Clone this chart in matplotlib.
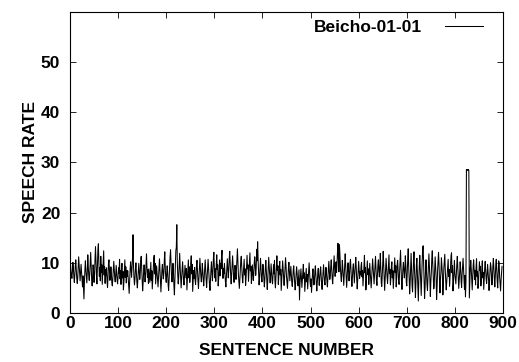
import numpy as np
import matplotlib
matplotlib.use("Agg")
import matplotlib.pyplot as plt

# speech rate per sentence (sentence 1..898)
rate = [
    9.8, 8.6, 7.4, 6.9, 8.2, 10.1, 9.0, 7.3, 6.1, 7.5, 9.4, 10.6, 8.8, 7.0, 5.9, 6.8, 8.9, 11.2, 9.5, 7.6,
    6.4, 7.9, 9.7, 8.1, 6.3, 5.2, 7.4, 5.0, 2.8, 6.2, 8.7, 10.4, 8.5, 7.1, 6.0, 8.3, 11.6, 9.2, 7.4, 6.5,
    7.8, 10.2, 12.1, 9.3, 6.8, 5.4, 7.0, 9.6, 8.2, 6.1, 7.5, 10.8, 13.2, 10.4, 7.6, 5.8, 8.9, 12.6, 13.8, 10.1,
    7.3, 9.0, 6.4, 11.3, 8.1, 9.6, 5.7, 7.9, 10.5, 12.4, 7.6, 9.2, 5.9, 8.7, 7.4, 9.0, 6.3, 5.1, 7.2, 9.8,
    10.6, 8.3, 6.5, 7.4, 9.2, 7.8, 6.0, 5.4, 6.9, 8.8, 10.3, 8.6, 7.0, 6.2, 7.6, 9.5, 8.1, 6.4, 5.8, 7.3,
    9.0, 7.9, 10.7, 6.8, 8.5, 5.7, 8.5, 9.9, 7.0, 8.3, 4.6, 6.1, 8.2, 10.6, 7.1, 9.2, 6.0, 8.5, 7.3, 8.4,
    6.9, 5.3, 3.9, 6.4, 8.8, 10.2, 8.6, 7.1, 8.9, 11.1, 15.6, 9.4, 7.0, 5.6, 6.8, 8.7, 10.0, 8.1, 6.2, 5.0,
    6.6, 8.4, 9.9, 8.2, 6.7, 7.8, 10.4, 11.3, 8.9, 6.5, 4.4, 6.0, 8.1, 9.6, 7.7, 6.2, 7.4, 9.5, 11.8, 9.0,
    7.1, 8.6, 5.9, 8.8, 7.3, 6.1, 7.9, 10.1, 6.5, 8.4, 4.8, 6.6, 8.6, 10.7, 11.5, 7.8, 9.9, 5.8, 7.6, 9.4,
    8.0, 6.3, 5.2, 7.1, 9.3, 10.8, 8.7, 6.6, 4.2, 6.3, 8.4, 9.7, 8.2, 6.8, 7.9, 10.5, 12.2, 9.1, 7.0, 6.1,
    7.7, 9.4, 8.0, 5.6, 4.5, 6.9, 9.0, 11.2, 12.6, 9.8, 7.4, 6.2, 7.8, 9.9, 8.1, 5.5, 3.6, 6.7, 9.6, 12.4,
    13.1, 17.6, 10.3, 7.5, 5.8, 7.2, 9.8, 11.9, 9.0, 6.8, 5.0, 6.9, 8.6, 10.2, 8.4, 6.5, 5.6, 7.3, 9.5, 8.3,
    7.0, 8.9, 4.6, 6.5, 8.4, 10.6, 7.0, 9.2, 6.1, 7.6, 9.8, 11.4, 7.8, 9.7, 4.3, 6.2, 8.5, 6.9, 9.1, 6.6,
    5.7, 7.4, 9.6, 10.5, 8.2, 6.4, 4.9, 6.8, 8.9, 10.9, 9.1, 7.3, 6.2, 7.7, 9.9, 8.4, 6.5, 5.4, 7.2, 9.4,
    10.6, 8.5, 6.6, 5.1, 6.9, 8.8, 10.7, 9.0, 7.1, 5.6, 4.5, 6.7, 8.6, 10.2, 8.3, 6.4, 8.1, 10.8, 12.1, 9.2,
    7.0, 8.8, 6.3, 9.5, 11.6, 8.7, 9.6, 5.4, 6.8, 8.9, 10.6, 7.4, 9.9, 8.8, 11.4, 12.5, 9.3, 6.9, 8.9, 7.8,
    9.9, 8.2, 6.3, 5.2, 7.1, 9.0, 10.8, 8.7, 7.0, 8.5, 10.9, 12.3, 9.6, 7.4, 5.8, 7.6, 9.8, 11.4, 9.2, 7.3,
    6.1, 7.9, 9.5, 8.3, 6.7, 8.6, 10.9, 12.8, 10.2, 7.7, 6.2, 4.9, 6.6, 8.8, 10.5, 11.3, 9.0, 7.2, 6.0, 7.5,
    9.3, 10.7, 7.6, 8.8, 5.5, 7.1, 9.2, 11.5, 8.8, 9.6, 6.3, 8.2, 10.4, 12.0, 8.4, 9.3, 5.9, 7.4, 9.6, 8.1,
    6.5, 7.8, 10.1, 11.2, 9.3, 7.5, 8.9, 12.7, 10.4, 14.2, 10.6, 7.9, 5.6, 6.9, 8.7, 10.9, 9.1, 7.0, 6.2, 7.8,
    9.7, 8.4, 6.6, 5.2, 6.8, 8.9, 10.5, 8.7, 6.9, 4.7, 6.4, 8.6, 11.1, 9.3, 7.2, 6.0, 7.6, 9.8, 8.2, 6.4,
    5.8, 7.5, 9.6, 7.8, 10.5, 6.3, 5.0, 6.9, 9.1, 11.4, 8.5, 9.4, 5.7, 7.2, 9.3, 10.3, 7.6, 8.7, 4.5, 6.6,
    8.8, 10.4, 8.9, 7.1, 5.5, 7.0, 9.2, 11.0, 9.4, 7.3, 6.2, 4.9, 6.8, 9.0, 10.1, 8.3, 6.4, 7.7, 9.3, 7.8,
    6.1, 5.3, 6.7, 8.5, 9.4, 7.6, 6.0, 4.6, 5.9, 7.8, 9.2, 8.0, 6.3, 5.4, 6.9, 8.6, 2.6, 5.8, 7.4, 8.8,
    7.1, 5.1, 6.5, 8.2, 9.7, 6.9, 8.0, 4.3, 5.8, 7.6, 8.9, 6.2, 7.7, 4.8, 6.6, 8.7, 10.0, 7.9, 6.2, 5.3,
    6.8, 4.1, 5.9, 7.7, 8.8, 7.0, 5.6, 6.4, 8.3, 9.4, 7.5, 5.9, 4.4, 6.1, 7.9, 8.9, 7.2, 5.5, 6.6, 8.5,
    9.2, 7.4, 5.8, 4.7, 6.5, 8.1, 9.6, 7.8, 6.2, 5.6, 7.3, 9.1, 8.0, 6.4, 5.2, 7.0, 8.8, 10.3, 8.4, 6.7,
    7.5, 9.3, 10.6, 8.6, 6.9, 5.8, 7.6, 9.7, 11.4, 9.0, 7.3, 8.5, 10.2, 8.1, 9.8, 12.3, 13.9, 10.4, 8.2, 13.6,
    11.8, 9.2, 7.4, 6.3, 8.0, 10.5, 9.1, 7.2, 5.5, 7.4, 9.6, 11.8, 9.5, 7.6, 5.1, 6.9, 8.9, 10.0, 8.2, 6.4,
    7.8, 9.9, 10.7, 8.5, 6.6, 5.3, 7.1, 9.0, 9.8, 7.7, 6.0, 7.9, 9.6, 11.1, 8.8, 6.7, 4.8, 6.6, 8.7, 10.3,
    8.5, 6.9, 8.2, 7.6, 9.4, 10.1, 7.2, 8.5, 5.4, 7.2, 9.2, 11.5, 8.0, 9.1, 4.6, 6.3, 8.4, 10.4, 7.7, 8.8,
    5.7, 7.5, 9.9, 8.3, 6.6, 5.0, 7.0, 8.9, 10.8, 9.1, 7.4, 5.8, 7.6, 9.5, 11.3, 8.8, 6.4, 5.5, 7.7, 9.6,
    10.6, 8.4, 7.2, 9.3, 11.9, 9.0, 6.0, 5.3, 7.4, 9.8, 12.3, 9.7, 7.5, 4.5, 6.6, 8.7, 10.9, 8.9, 7.3, 5.9,
    7.6, 9.7, 11.6, 7.9, 8.7, 5.6, 7.1, 9.2, 10.2, 7.0, 8.4, 4.9, 6.8, 8.8, 11.0, 8.1, 9.4, 5.2, 7.0, 9.7,
    10.5, 8.6, 6.2, 5.7, 7.9, 10.4, 12.5, 9.3, 6.5, 4.7, 6.9, 8.9, 10.1, 8.4, 7.0, 8.6, 11.4, 9.5, 6.1, 5.4,
    8.2, 10.8, 12.8, 9.2, 6.8, 3.8, 6.0, 9.0, 11.9, 8.5, 5.5, 4.2, 7.7, 10.4, 12.2, 8.8, 6.3, 3.1, 5.9, 9.6,
    10.9, 8.1, 5.9, 2.4, 6.4, 9.4, 11.5, 8.9, 6.6, 3.5, 7.2, 10.3, 12.7, 13.4, 9.9, 6.4, 2.9, 5.1, 8.6, 10.6,
    8.3, 5.7, 4.5, 7.0, 9.1, 11.8, 9.6, 6.9, 3.3, 6.2, 8.0, 10.8, 12.4, 9.7, 7.5, 4.8, 5.4, 8.7, 11.2, 9.3,
    7.1, 2.7, 5.2, 8.4, 10.1, 12.1, 9.8, 6.5, 4.0, 6.8, 8.2, 11.0, 9.5, 7.6, 3.6, 5.6, 8.9, 10.4, 11.7, 8.6,
    6.3, 4.6, 6.1, 7.9, 9.4, 10.7, 7.3, 8.7, 5.3, 7.3, 9.2, 11.4, 12.0, 8.0, 9.4, 4.4, 6.0, 8.5, 10.5, 7.8,
    6.9, 5.8, 7.8, 9.6, 11.3, 9.1, 7.1, 4.9, 6.4, 8.2, 10.2, 8.7, 6.2, 5.1, 7.7, 9.3, 10.9, 8.6, 6.6, 4.7,
    7.5, 3.2, 6.3, 28.6, 28.4, 28.6, 28.5, 28.6, 28.4, 3.0, 6.0, 8.9, 10.5, 8.8, 6.5, 4.6, 7.0, 9.4, 10.6, 8.6,
    6.7, 8.5, 5.6, 9.1, 10.8, 7.3, 8.3, 4.9, 6.1, 8.4, 10.2, 8.5, 9.3, 5.4, 6.6, 8.8, 10.4, 7.0, 8.1, 4.7,
    7.0, 9.0, 10.3, 8.7, 6.8, 5.9, 7.7, 9.7, 8.3, 6.6, 4.5, 6.2, 8.5, 10.0, 9.2, 7.4, 5.6, 7.1, 9.4, 10.9,
    8.7, 6.9, 5.2, 7.5, 9.6, 10.7, 8.4, 6.4, 5.0, 7.8, 10.4, 9.9, 7.2, 5.7, 4.4, 6.6, 8.1, 9.3,
]
sentence = np.arange(1, len(rate) + 1)

x_ticks = [0, 100, 200, 300, 400, 500, 600, 700, 800, 900]
y_ticks = [0, 10, 20, 30, 40, 50]

plt.rcParams['font.family'] = ['Liberation Sans', 'DejaVu Sans']
plt.rcParams['font.weight'] = 'bold'
fs = 12.5

fig = plt.figure(figsize=(5.19, 3.62), dpi=100)
ax = fig.add_axes([70 / 519, 49 / 362, 433 / 519, 301 / 362])

ax.plot(sentence, rate, color='black', linewidth=0.75, label='Beicho-01-01')

ax.set_xlim(0, 900)
ax.set_ylim(0, 60)
ax.set_xticks(x_ticks)
ax.set_yticks(y_ticks)
ax.tick_params(direction='in', length=4, width=0.6, top=True, right=True,
               labelsize=fs)
ax.tick_params(axis='x', pad=2)
ax.tick_params(axis='y', pad=7)
for lbl in ax.get_xticklabels() + ax.get_yticklabels():
    lbl.set_fontweight('bold')
for s in ax.spines.values():
    s.set_linewidth(0.8)

ax.set_xlabel('SENTENCE NUMBER', fontsize=fs, fontweight='bold', labelpad=9)
ax.set_ylabel('SPEECH RATE', fontsize=fs, fontweight='bold', labelpad=2)

ax.legend(loc='upper right', bbox_to_anchor=(0.954, 0.973), frameon=False,
          markerfirst=False, handlelength=2.2, handletextpad=1.3,
          borderaxespad=0, borderpad=0,
          prop={'weight': 'bold', 'size': fs})

fig.savefig('out.png', dpi=100)
